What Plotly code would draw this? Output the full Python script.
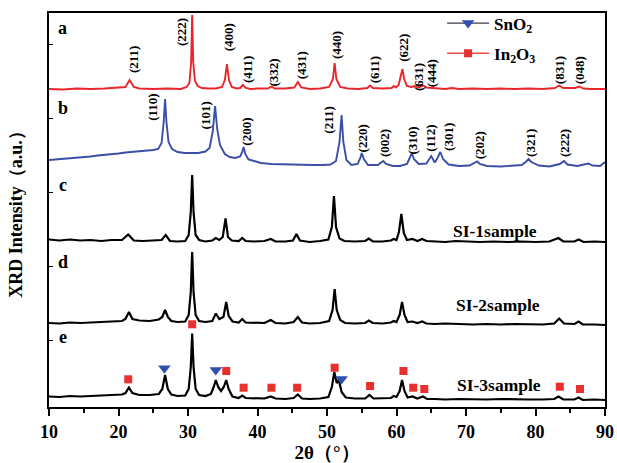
import plotly.graph_objects as go

# ---------------- data ----------------
# x = 2theta (deg), y = intensity (a.u., stacked offsets included)
a_x = [10, 12, 14, 16, 18, 20, 21.0, 21.6, 22.2, 23, 25, 27, 29, 29.8, 30.2, 30.45, 30.6, 30.75, 31.0, 31.4,
       32, 33, 34, 34.9, 35.3, 35.6, 35.9, 36.3, 37, 37.5, 37.9, 38.3, 39, 40, 41.5, 42.0, 42.5, 44, 45.3,
       45.8, 46.3, 47.5, 49, 50.3, 50.85, 51.1, 51.35, 51.9, 53, 54.5, 55.8, 56.2, 56.6, 58, 59.3, 59.6,
       59.9, 60.3, 60.6, 60.85, 61.1, 61.5, 62.1, 62.6, 63.1, 63.6, 63.9, 64.3, 65.5, 67, 68, 69, 71, 73,
       75, 77, 79, 81, 82.8, 83.4, 84, 85.7, 86.3, 86.9, 88, 90]
a_y = [318, 317.5, 318.5, 318, 318.5, 319, 320, 327, 320, 318.5, 318, 318.5, 318, 320, 324, 345, 392, 345, 326, 321,
       319, 318.5, 318.5, 320, 327, 343, 327, 320, 318.5, 319, 322, 319, 318, 318.5, 318.5, 320.5, 318.5, 318.5, 319.5,
       325, 319.5, 318, 318.5, 320, 328, 344, 328, 320, 318.5, 318, 319, 321.5, 319, 318.5, 319, 321,
       319.5, 322, 330, 338, 328, 321, 320, 321, 319.5, 320.5, 321.5, 319.5, 318.5, 318, 319, 318, 318.5, 318,
       318.5, 318, 318.5, 318, 319, 321.5, 319, 319, 320.5, 318.5, 318, 318]

b_x = [10, 11, 12, 13, 14, 15, 16, 17, 18, 19, 20, 21, 22, 23, 24, 25, 25.7, 26.2, 26.5, 26.7, 26.9, 27.2, 27.7,
       28.5, 29.5, 30.5, 31.5, 32.5, 33.1, 33.55, 33.9, 34.2, 34.6, 35.3, 36, 36.8, 37.5, 37.8, 38.0, 38.25,
       38.7, 39.5, 40.5, 42, 44, 46, 48, 49.5, 50.5, 51.3, 51.8, 52.1, 52.35, 52.8, 53.5, 54.4, 54.8, 55.0,
       55.3, 55.9, 57.3, 57.8, 58.1, 58.5, 59.5, 60.5, 61.5, 61.9, 62.2, 62.5, 63.2, 64.3, 64.7, 65.0, 65.5,
       65.9, 66.3, 66.7, 67.5, 69, 70.5, 71.3, 71.6, 72.0, 73, 75, 76.5, 78, 78.6, 79.0, 79.4, 80.5, 82,
       83.5, 84.1, 84.6, 86, 87.2, 87.6, 88.2, 89.3, 90]
b_y = [247, 247.5, 248, 248.5, 249.5, 250, 250.5, 251.5, 252, 253, 253.5, 254.5, 255, 256, 256.5, 257, 258, 264, 285, 308, 285, 265, 258,
       255, 254, 254, 254, 255.5, 259, 275, 301, 278, 262, 253, 250, 249, 250.5, 255, 260, 253,
       247.5, 246, 244, 243, 242.5, 242, 242, 242, 242.5, 246, 265, 292, 265, 247, 242, 243, 249, 254,
       248, 242, 242, 244.5, 246, 243, 241, 241, 243, 249, 254, 248, 243, 243.5, 248, 251, 244.5,
       249, 255, 248, 242.5, 241, 241.5, 244, 245.5, 243, 241, 240.5, 241.5, 242, 245, 248, 245, 241.5, 240.5,
       243, 246, 242.5, 241, 242.5, 243.5, 241.5, 241, 245]

c_x = [10, 11.5, 13, 14.5, 16, 17.5, 19, 20.5, 21.4, 22.2, 23.5, 25, 26.2, 26.8, 27.4, 28.5, 29.6, 30.1, 30.4,
       30.6, 30.8, 31.1, 31.6, 32.5, 33.5, 34.0, 34.5, 35.0, 35.4, 35.75, 36.3, 37.3, 37.8, 38.3, 39.5, 41,
       41.9, 42.6, 44, 45.1, 45.6, 46.1, 47.5, 49, 50.2, 50.7, 51.0, 51.3, 51.8, 52.5, 54, 55.5, 56.0, 56.6,
       58, 59.2, 59.6, 60.0, 60.35, 60.7, 61.05, 61.5, 62.3, 63, 63.7, 64.3, 65.5, 67, 68.5, 70, 72, 74, 76,
       78, 80, 82, 83.3, 84, 85.6, 86.2, 86.9, 88.5, 90]
c_y = [167.5, 166.5, 167.5, 166.5, 167, 166, 167, 167, 172.5, 166.5, 166, 166.5, 167, 172, 166, 165.5, 166, 172, 195,
       232, 195, 172, 167, 165.5, 166.5, 169, 167, 170, 188.7, 170, 166.5, 166, 169, 166, 165.5, 166,
       168, 165.5, 165.5, 166.5, 173, 166.5, 165, 166, 167.5, 180, 211, 180, 168.5, 166, 165.5, 166, 168.5, 165.5,
       165.5, 166.5, 168, 167, 175, 193, 174, 167, 168, 166, 168, 166, 165.5, 165, 166, 165.5, 165, 165.5, 165,
       165.5, 165, 165.5, 169, 165.5, 165.5, 167.5, 165, 165.5, 165]

d_x = [10, 11.5, 13, 14.5, 16, 17.5, 19, 20.5, 21.0, 21.5, 22.0, 23, 24.5, 25.8, 26.3, 26.7, 27.1, 27.6, 28.5,
       29.6, 30.1, 30.4, 30.6, 30.8, 31.1, 31.6, 32.5, 33.5, 34.0, 34.5, 35.1, 35.5, 35.85, 36.4, 37.3, 37.8,
       38.3, 39.5, 41, 41.9, 42.6, 44, 45.2, 45.8, 46.4, 47.5, 49, 50.3, 50.8, 51.1, 51.4, 51.9, 52.6, 54,
       55.5, 56.0, 56.6, 58, 59.2, 59.6, 60.0, 60.45, 60.8, 61.15, 61.6, 62.3, 63, 63.7, 64.3, 65.5, 67, 69,
       71, 73, 75, 77, 79, 81, 82.7, 83.4, 84.1, 85.6, 86.2, 86.8, 88.5, 90]
d_y = [84, 83.5, 84.5, 84, 84.5, 85, 85.5, 86, 88, 95, 88, 86.5, 86, 87.5, 90, 97, 90, 86, 85,
       85.5, 92, 115, 155, 115, 92, 86, 85, 86, 93.5, 88, 90, 105, 91, 85.5, 84.5, 88,
       84.5, 84, 84, 87, 84, 83.5, 85, 90, 84.5, 83.5, 84, 86, 97, 118, 97, 87, 84, 83.5,
       84, 86.5, 84, 83.5, 84.5, 86, 85, 92, 105, 92, 85, 85.5, 84, 85.5, 83.5, 83, 83.5, 83,
       82.5, 83, 82.5, 83, 82.5, 82.5, 83.5, 88.5, 83.5, 83, 85.5, 82.5, 82.5, 82]

e_x = [10, 11.5, 13, 14.5, 16, 17.5, 19, 20.5, 21.0, 21.5, 22.0, 23, 24.5, 25.8, 26.3, 26.7, 27.1, 27.6, 28.5,
       29.6, 30.1, 30.4, 30.6, 30.8, 31.1, 31.6, 32.5, 33.3, 33.7, 34.0, 34.35, 34.75, 35.15, 35.5, 35.85,
       36.4, 37.3, 37.8, 38.3, 39.5, 41, 41.9, 42.6, 44, 45.2, 45.8, 46.4, 47.5, 49, 50.2, 50.7, 51.05, 51.4,
       51.7, 52.1, 52.7, 54, 55.5, 56.1, 56.7, 58, 59.2, 59.6, 60.0, 60.45, 60.8, 61.15, 61.6, 62.3, 63, 63.8,
       64.4, 65.5, 67, 69, 71, 73, 75, 77, 79, 81, 82.7, 83.3, 84, 85.6, 86.2, 86.8, 88.5, 90]
e_y = [10.5, 10, 11, 10.5, 11, 11.5, 12, 12.5, 14, 19.5, 14, 12, 12, 13, 18, 32, 18, 12.5, 11,
       11.5, 18, 40, 73.5, 40, 18, 12, 11, 13, 20, 27, 20, 16, 20, 27, 18,
       10.5, 9, 11.5, 9, 8.5, 8.5, 10.5, 8.5, 8, 9, 12.5, 8.5, 8, 8.5, 10, 20, 35, 24,
       27, 15, 9.5, 8.5, 8.5, 12, 8.5, 8.5, 9, 11, 10, 16, 27, 16, 9.5, 10.5, 8.5, 10.5,
       8, 8, 7.5, 8, 7.5, 7.5, 8, 7.5, 7.5, 7.5, 8, 10.5, 7.5, 7.5, 9.5, 7, 7.5, 7]

# phase markers on pattern e
in2o3_x = [21.4, 30.6, 35.5, 38.0, 42.0, 45.7, 51.1, 56.2, 61.0, 62.4, 64.0, 83.5, 86.4]
in2o3_y = [27.7, 82.7, 36, 19.3, 19.3, 19.3, 39.3, 21, 36, 19.3, 18, 20.3, 18]
sno2_x = [26.6, 34.0, 52.1]
sno2_y = [38.7, 37, 28]

# Miller-index labels
a_hkl = ['(211)', '(222)', '(400)', '(411)', '(332)', '(431)', '(440)', '(611)', '(622)', '(631)', '(444)', '(831)', '(048)']
a_hkl_x = [22.1, 29.0, 35.8, 38.5, 42.3, 46.3, 51.3, 56.8, 60.9, 63.1, 65.0, 83.4, 86.3]
a_hkl_y = [347, 375, 370, 337, 335, 342, 362, 337, 359, 330, 334, 337, 337]
b_hkl = ['(110)', '(101)', '(200)', '(211)', '(220)', '(002)', '(310)', '(112)', '(301)', '(202)', '(321)', '(222)']
b_hkl_x = [24.8, 32.5, 38.3, 50.1, 55.1, 58.2, 62.3, 64.8, 67.4, 71.9, 79.2, 84.1]
b_hkl_y = [300, 292, 275, 287, 269, 264, 267, 269, 270, 262, 264, 264]

curve_letters = ['a', 'b', 'c', 'd', 'e']
letter_y = [378.7, 298.7, 222, 145.3, 70.3]
sample_names = ['SI-1sample', 'SI-2sample', 'SI-3sample']
sample_x = [74.2, 74.6, 74.8]
sample_y = [176, 102, 22]

# ---------------- figure ----------------
FONT = 'Liberation Serif'
RED = '#e8262b'
BLUE = '#3b4fa6'
BLACK = '#000000'

fig = go.Figure()
for xs, ys, col, w in [(a_x, a_y, RED, 1.9), (b_x, b_y, BLUE, 1.9), (c_x, c_y, BLACK, 2.2),
                       (d_x, d_y, BLACK, 2.2), (e_x, e_y, BLACK, 2.2)]:
    fig.add_trace(go.Scatter(x=xs, y=ys, mode='lines', line=dict(color=col, width=w),
                             showlegend=False, hoverinfo='skip'))

fig.add_trace(go.Scatter(x=in2o3_x, y=in2o3_y, mode='markers', showlegend=False,
                         marker=dict(symbol='square', size=8, color='#e8302f')))
fig.add_trace(go.Scatter(x=sno2_x, y=sno2_y, mode='markers', showlegend=False,
                         marker=dict(symbol='triangle-down', size=11, color='#3050b0')))

# legend-only entries
fig.add_trace(go.Scatter(x=[None], y=[None], mode='lines+markers', name='SnO<sub>2</sub>',
                         legendgroup='g1',
                         line=dict(color='#3a3d55', width=1.2),
                         marker=dict(symbol='triangle-down', size=11, color='#3050b0')))
fig.add_trace(go.Scatter(x=[None], y=[None], mode='lines+markers', name='In<sub>2</sub>O<sub>3</sub>',
                         legendgroup='g2',
                         line=dict(color='#ee4a4a', width=1.5),
                         marker=dict(symbol='square', size=8, color='#e8302f')))

ann = []
for t, x, y in zip(a_hkl, a_hkl_x, a_hkl_y):
    ann.append(dict(x=x, y=y, text=t, textangle=-90, showarrow=False,
                    font=dict(family=FONT, size=13, color='black', weight='bold')))
for t, x, y in zip(b_hkl, b_hkl_x, b_hkl_y):
    ann.append(dict(x=x, y=y, text=t, textangle=-90, showarrow=False,
                    font=dict(family=FONT, size=13, color='black', weight='bold')))
for t, y in zip(curve_letters, letter_y):
    ann.append(dict(x=12.0, y=y, text=t, showarrow=False,
                    font=dict(family=FONT, size=18, color='black', weight='bold')))
for t, x, y in zip(sample_names, sample_x, sample_y):
    ann.append(dict(x=x, y=y, text=t, showarrow=False,
                    font=dict(family=FONT, size=17.5, color='black', weight='bold')))

fig.update_layout(
    template='none',
    width=617, height=463,
    margin=dict(l=49, r=12, t=13, b=56, autoexpand=False),
    plot_bgcolor='white', paper_bgcolor='white',
    font=dict(family=FONT, color='black'),
    annotations=ann,
    showlegend=True,
    legend=dict(x=0.707, y=0.988, yref='container', xanchor='left', yanchor='top',
                bgcolor='rgba(0,0,0,0)', itemwidth=42,
                font=dict(family=FONT, size=17, color='black', weight='bold'), tracegroupgap=5),
)
fig.update_xaxes(range=[10, 90], tick0=10, dtick=10, ticks='outside', ticklen=7, tickwidth=1.5,
                 tickcolor='black', showline=True, linewidth=2, linecolor='black', mirror=True,
                 showgrid=False, zeroline=False, automargin=False,
                 tickfont=dict(family=FONT, size=18, color='black', weight='bold'),
                 minor=dict(dtick=5, tick0=10, ticks='outside', ticklen=4, tickwidth=1.5,
                            tickcolor='black', showgrid=False),
                 title=dict(text='2θ（°）', standoff=8,
                            font=dict(family=FONT, size=19, color='black', weight='bold')))
fig.update_yaxes(range=[0, 394], tick0=67, dtick=74, ticks='inside', ticklen=4, tickwidth=1.2,
                 tickcolor='black', showticklabels=False, showline=True, linewidth=2,
                 linecolor='black', mirror=True, showgrid=False, zeroline=False, automargin=False,
                 title=dict(text='XRD Intensity（a.u.）', standoff=20,
                            font=dict(family=FONT, size=18, color='black', weight='bold')))

fig.write_html('out.html')
